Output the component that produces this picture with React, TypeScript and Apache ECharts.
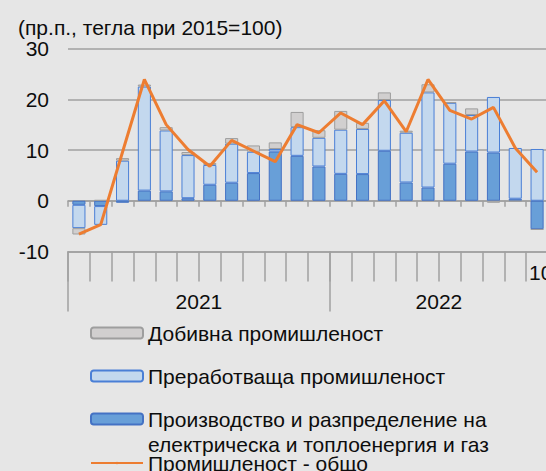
import React, { useEffect, useRef } from "react";
import * as echarts from "echarts";

// Jan 2021 – Oct 2022, monthly
const years = ["2021", "2022"];
const monthsPerYear = [12, 10];
const categories: string[] = [];
years.forEach((y, yi) => {
  for (let m = 1; m <= monthsPerYear[yi]; m++) categories.push(`${y}-${String(m).padStart(2, "0")}`);
});

const seriesNames = [
  "Добивна промишленост",
  "Преработваща промишленост",
  "Производство и разпределение на\nелектрическа и топлоенергия и газ",
  "Промишленост - общо",
];

const mining = [-1.25, 0.15, 0.5, 0.4, 0.65, 0.6, 0.4, 1.1, 1.25, 1.3, 3.0, 1.5, 3.7, 1.2, 1.5, 0.4, 1.6, 0.1, 1.3, -0.4, -0.2, -0.1];
const manufacturing = [-4.6, -3.7, 7.9, 20.5, 12.0, 8.5, 3.9, 7.7, 4.2, 0.5, 5.65, 5.65, 8.7, 8.9, 10.0, 9.8, 18.75, 12.0, 7.2, 10.95, 10.0, 10.2];
const energy = [-0.8, -1.05, -0.4, 2.0, 1.85, 0.5, 3.15, 3.55, 5.45, 9.7, 8.85, 6.75, 5.3, 5.25, 9.85, 3.6, 2.6, 7.3, 9.7, 9.5, 0.4, -5.6];
const total = [-6.6, -4.7, 9.6, 23.9, 15.0, 10.1, 6.8, 11.9, 9.8, 7.7, 15.0, 13.4, 17.3, 15.0, 19.7, 13.6, 23.9, 17.8, 16.1, 18.4, 10.4, 5.6];

const yTicks = [-10, 0, 10, 20, 30];
const titleText = "(пр.п., тегла при 2015=100)";
const extraLabel = "10";

// boundary points (23) for the year box axis
const yearStartIdx: number[] = [];
const yearMidIdx: number[] = [];
{
  let acc = 0;
  monthsPerYear.forEach((n) => {
    yearStartIdx.push(acc);
    yearMidIdx.push(acc + n / 2);
    acc += n;
  });
}
const boundaryPoints: string[] = Array.from({ length: categories.length + 1 }, (_, i) => {
  const k = yearMidIdx.indexOf(i);
  return k >= 0 ? years[k] : "";
});

const FONT = "'Liberation Sans', Arial, sans-serif";
const FS = 21;
const TXT = "#0d0d0d";
const GRID = "#a0a0a0";

export default function App() {
  const ref = useRef<HTMLDivElement>(null);
  useEffect(() => {
    if (!ref.current) return;
    const chart = echarts.init(ref.current, undefined, { renderer: "svg" });
    const legendText = { fontFamily: FONT, fontSize: FS, color: TXT, lineHeight: 25 };
    const legendBase = {
      orient: "vertical" as const,
      left: 90,
      padding: 0,
      itemWidth: 52,
      itemHeight: 11,
      selectedMode: false,
      textStyle: legendText,
    };
    chart.setOption({
      animation: false,
      backgroundColor: "#e6e6e6",
      textStyle: { fontFamily: FONT },
      title: {
        text: titleText,
        left: 18,
        top: 15,
        padding: 0,
        textStyle: { fontFamily: FONT, fontSize: FS, fontWeight: "normal", color: TXT, lineHeight: 24 },
      },
      grid: { left: 68, right: 0, top: 48.5, bottom: 219.5, containLabel: false },
      legend: [
        { ...legendBase, top: 320.5, data: [seriesNames[0]] },
        { ...legendBase, top: 363.5, data: [seriesNames[1]] },
        {
          ...legendBase,
          top: 381.5,
          data: [seriesNames[2]],
          formatter: (name: string) => "\n" + name,
        },
        { ...legendBase, top: 450.5, itemHeight: 3, data: [seriesNames[3]] },
      ],
      xAxis: [
        {
          type: "category",
          data: categories,
          axisLine: { onZero: true, lineStyle: { color: GRID, width: 1.5 } },
          axisTick: { show: true, length: 6, interval: 0, lineStyle: { color: GRID, width: 1.5 } },
          axisLabel: { show: false },
          splitLine: { show: false },
        },
        {
          type: "category",
          data: boundaryPoints,
          boundaryGap: false,
          position: "bottom",
          axisLine: { show: true, onZero: false, lineStyle: { color: GRID, width: 1.5 } },
          axisTick: { show: true, length: 30, interval: 0, lineStyle: { color: GRID, width: 1.5 } },
          axisLabel: {
            show: true,
            interval: 0,
            margin: 39,
            fontFamily: FONT,
            fontSize: FS,
            color: TXT,
          },
          splitLine: { show: false },
        },
        {
          type: "category",
          data: boundaryPoints,
          boundaryGap: false,
          position: "bottom",
          axisLine: { show: false, onZero: false },
          axisTick: {
            show: true,
            length: 60,
            interval: (i: number) => yearStartIdx.includes(i),
            lineStyle: { color: GRID, width: 1.5 },
          },
          axisLabel: { show: false },
          splitLine: { show: false },
        },
      ],
      yAxis: {
        type: "value",
        min: yTicks[0],
        max: yTicks[yTicks.length - 1],
        interval: 10,
        axisLine: { show: false },
        axisTick: { show: false },
        axisLabel: { margin: 19, fontFamily: FONT, fontSize: FS, color: TXT },
        splitLine: { show: true, lineStyle: { color: GRID, width: 1.5 } },
      },
      graphic: [
        {
          type: "text",
          left: 529,
          top: 262,
          style: { text: extraLabel, fontFamily: FONT, fontSize: FS, fill: TXT },
        },
      ],
      series: [
        {
          name: seriesNames[2],
          type: "bar",
          stack: "ind",
          data: energy,
          barCategoryGap: "40%",
          itemStyle: { color: "#689fd8", borderColor: "#4472c4", borderWidth: 1 },
          z: 2,
        },
        {
          name: seriesNames[1],
          type: "bar",
          stack: "ind",
          data: manufacturing,
          barCategoryGap: "40%",
          itemStyle: { color: "#c3d8ee", borderColor: "#4a7fd6", borderWidth: 1 },
          z: 2,
        },
        {
          name: seriesNames[0],
          type: "bar",
          stack: "ind",
          data: mining,
          barCategoryGap: "40%",
          itemStyle: { color: "#d1cfcf", borderColor: "#9e9e9e", borderWidth: 1 },
          z: 2,
        },
        {
          name: seriesNames[3],
          type: "line",
          data: total,
          symbol: "none",
          lineStyle: { color: "#ed7d31", width: 3 },
          itemStyle: { color: "#ed7d31" },
          z: 5,
        },
      ],
    });
    return () => chart.dispose();
  }, []);
  return (
    <div style={{ position: "fixed", left: 0, top: 0, width: 546, height: 471, overflow: "hidden", background: "#e6e6e6" }}>
      <div ref={ref} style={{ position: "absolute", left: 0, top: 0, width: 551, height: 471 }} />
    </div>
  );
}
